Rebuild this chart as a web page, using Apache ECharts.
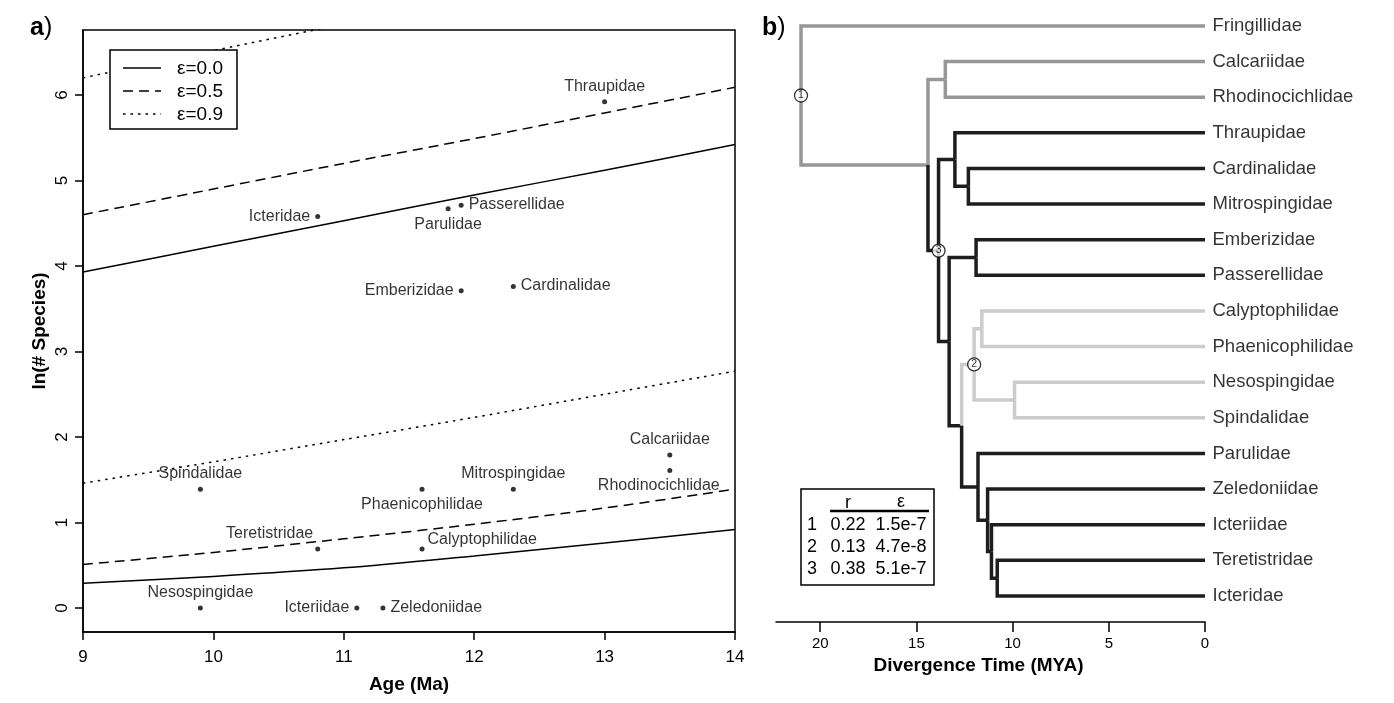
<!DOCTYPE html>
<html><head><meta charset="utf-8">
<script src="https://cdn.jsdelivr.net/npm/echarts@6/dist/echarts.min.js"></script>
<style>html,body{margin:0;padding:0;background:#fff}#c{width:1394px;height:703px}</style>
</head><body><div id="c"></div>
<script>
// ---------- Panel a data ----------
const families = ['Thraupidae','Icteridae','Parulidae','Passerellidae','Emberizidae','Cardinalidae','Calcariidae','Rhodinocichlidae','Spindalidae','Phaenicophilidae','Mitrospingidae','Teretistridae','Calyptophilidae','Nesospingidae','Icteriidae','Zeledoniidae'];
const familyAge = [13.0,10.8,11.8,11.9,11.9,12.3,13.5,13.5,9.9,11.6,12.3,10.8,11.6,9.9,11.1,11.3];
const lnSpecies = [5.92,4.58,4.67,4.71,3.71,3.76,1.79,1.61,1.39,1.39,1.39,0.69,0.69,0,0,0];

const curveAge   = [9,10,11,12,13,14];
const eps00Upper = [3.93,4.23,4.53,4.83,5.12,5.42];
const eps00Lower = [0.29,0.37,0.47,0.61,0.76,0.92];
const eps05Upper = [4.60,4.90,5.20,5.49,5.79,6.09];
const eps05Lower = [0.51,0.65,0.81,0.98,1.17,1.39];
const eps09Upper = [6.20,6.52,6.83,7.15,7.46,7.78];
const eps09Lower = [1.46,1.71,1.97,2.23,2.50,2.77];
const legendNames = ['ε=0.0','ε=0.5','ε=0.9'];
const lnTicks = [0,1,2,3,4,5,6];

// ---------- Panel b data ----------
const tipNames = ['Fringillidae','Calcariidae','Rhodinocichlidae','Thraupidae','Cardinalidae','Mitrospingidae','Emberizidae','Passerellidae','Calyptophilidae','Phaenicophilidae','Nesospingidae','Spindalidae','Parulidae','Zeledoniidae','Icteriidae','Teretistridae','Icteridae'];
const nodeIds = ['n1','nA','nCR','n3','nT','nCM','nR','nEP','nL','n2','nCP','nNS','nP','nZ','nI','nTI'];
const nodeChildren = [['Fringillidae','nA'],['nCR','n3'],['Calcariidae','Rhodinocichlidae'],['nT','nR'],['Thraupidae','nCM'],['Cardinalidae','Mitrospingidae'],['nEP','nL'],['Emberizidae','Passerellidae'],['n2','nP'],['nCP','nNS'],['Calyptophilidae','Phaenicophilidae'],['Nesospingidae','Spindalidae'],['Parulidae','nZ'],['Zeledoniidae','nI'],['Icteriidae','nTI'],['Teretistridae','Icteridae']];
const nodeAges = [21.0,14.4,13.5,13.85,13.0,12.3,13.3,11.9,12.65,12.0,11.6,9.9,11.8,11.3,11.1,10.8];
const grayClade = ['Fringillidae','nA','nCR','Calcariidae','Rhodinocichlidae'];
const lightClade = ['n2','nCP','nNS','Calyptophilidae','Phaenicophilidae','Nesospingidae','Spindalidae'];
const numberedNodes = ['n1','n2','n3'];
const numberedLabels = ['1','2','3'];
const timeTicks = [0,5,10,15,20];

const tableRows = ['1','2','3'];
const tableR = ['0.22','0.13','0.38'];
const tableEps = ['1.5e-7','4.7e-8','5.1e-7'];

// ---------- build ----------
const FONT = '"Liberation Sans", Arial, Helvetica, sans-serif';
const INK = '#000';
const DASHES = ['solid', [10,6], [2.5,5]];

const labelPlace = {
  Thraupidae:['top',[0,0]], Icteridae:['left',[0,0]], Parulidae:['bottom',[0,0]],
  Passerellidae:['right',[0,-1]], Emberizidae:['left',[0,0]], Cardinalidae:['right',[0,-1]],
  Calcariidae:['top',[0,0]], Rhodinocichlidae:['bottom',[-11,0]], Spindalidae:['top',[0,0]],
  Phaenicophilidae:['bottom',[0,0]], Mitrospingidae:['top',[0,0]], Teretistridae:['left',[3,-15]],
  Calyptophilidae:['right',[-2,-9]], Nesospingidae:['top',[0,0]], Icteriidae:['left',[0,0]],
  Zeledoniidae:['right',[0,0]]
};

const scatterData = families.map((n,i)=>({
  name:n, value:[familyAge[i], lnSpecies[i]],
  label:{position:labelPlace[n][0], offset:labelPlace[n][1]}
}));

function curve(arr){ return curveAge.map((x,i)=>[x, arr[i]]); }
function lineSeries(name, arr, dash){
  return {type:'line', name:name, xAxisIndex:0, yAxisIndex:0, data:curve(arr), smooth:0.3,
    symbol:'none', lineStyle:{color:INK, width:1.5, type:dash}, itemStyle:{color:INK}};
}

const yOf = {}, ageOf = {};
tipNames.forEach((n,i)=>{ yOf[n]=i; ageOf[n]=0; });
nodeIds.forEach((id,i)=>{ ageOf[id]=nodeAges[i]; });
function getY(id){
  if (id in yOf) return yOf[id];
  const c = nodeChildren[nodeIds.indexOf(id)];
  const y = (getY(c[0])+getY(c[1]))/2; yOf[id]=y; return y;
}
nodeIds.forEach(getY);
function colorOf(id){
  if (grayClade.includes(id)) return '#979797';
  if (lightClade.includes(id)) return '#cccccc';
  return '#1e1e1e';
}
const branchData = [], branchColor = [];
nodeIds.forEach((id,i)=>{
  nodeChildren[i].forEach(ch=>{
    branchData.push([ageOf[id], yOf[id], ageOf[id], yOf[ch], ageOf[ch], yOf[ch]]);
    branchColor.push(colorOf(ch));
  });
});

// legend drawn as graphics (box with line samples)
const legendGraphics = [
  {type:'rect', shape:{x:110, y:50, width:127, height:79}, style:{fill:'#fff', stroke:INK, lineWidth:1.5}, z:20}
];
legendNames.forEach((nm,i)=>{
  const y = 68 + 23*i;
  legendGraphics.push({type:'line', shape:{x1:123, y1:y, x2:161, y2:y},
    style:{stroke:INK, lineWidth:1.5, lineDash: DASHES[i]==='solid'?null:DASHES[i]}, z:21});
  legendGraphics.push({type:'text', x:177, y:y+1, style:{text:nm, font:'19px '+FONT, fill:INK, textVerticalAlign:'middle'}, z:21});
});

const option = {
  animation:false,
  backgroundColor:'#fff',
  textStyle:{fontFamily:FONT},
  grid:[
    {left:83, top:30, width:652, height:602, show:true, borderColor:INK, borderWidth:1.5, backgroundColor:'transparent'},
    {left:776, top:26, width:429, height:596, show:false}
  ],
  xAxis:[
    {gridIndex:0, type:'value', min:9, max:14, interval:1,
     axisLine:{onZero:false, lineStyle:{color:INK, width:1.5}},
     axisTick:{length:8, lineStyle:{color:INK, width:1.5}},
     axisLabel:{fontSize:17, color:INK, margin:17},
     splitLine:{show:false},
     name:'Age (Ma)', nameLocation:'middle', nameGap:43,
     nameTextStyle:{fontSize:19, fontWeight:'bold', color:INK}},
    {gridIndex:1, type:'value', min:0, max:22.3, inverse:true,
     axisLine:{onZero:false, lineStyle:{color:INK, width:1.5}},
     axisTick:{length:10, customValues:timeTicks, lineStyle:{color:INK, width:1.5}},
     axisLabel:{fontSize:15, color:INK, margin:14, customValues:timeTicks},
     splitLine:{show:false},
     name:'Divergence Time (MYA)', nameLocation:'middle', nameGap:34,
     nameTextStyle:{fontSize:19, fontWeight:'bold', color:INK, padding:[0,24,0,0]}}
  ],
  yAxis:[
    {gridIndex:0, type:'value', min:-0.28, max:6.76,
     axisLine:{onZero:false, lineStyle:{color:INK, width:1.5}},
     axisTick:{length:8, customValues:lnTicks, lineStyle:{color:INK, width:1.5}},
     axisLabel:{fontSize:17, color:INK, margin:12, rotate:90, customValues:lnTicks},
     splitLine:{show:false},
     name:'ln(# Species)', nameLocation:'middle', nameGap:34, nameRotate:90,
     nameTextStyle:{fontSize:19, fontWeight:'bold', color:INK}},
    {gridIndex:1, type:'value', min:0, max:16.73, inverse:true, show:false}
  ],
  series:[
    lineSeries(legendNames[0], eps00Upper, DASHES[0]),
    lineSeries(legendNames[0], eps00Lower, DASHES[0]),
    lineSeries(legendNames[1], eps05Upper, DASHES[1]),
    lineSeries(legendNames[1], eps05Lower, DASHES[1]),
    lineSeries(legendNames[2], eps09Upper, DASHES[2]),
    lineSeries(legendNames[2], eps09Lower, DASHES[2]),
    {type:'scatter', name:'families', xAxisIndex:0, yAxisIndex:0, data:scatterData,
     symbol:'circle', symbolSize:5, itemStyle:{color:INK},
     label:{show:true, formatter:'{b}', fontSize:16, color:INK, distance:5}},
    {type:'custom', name:'tree', xAxisIndex:1, yAxisIndex:1, data:branchData, clip:false,
     renderItem:function(params, api){
       const p1 = api.coord([api.value(0), api.value(1)]);
       const p2 = api.coord([api.value(2), api.value(3)]);
       const p3 = api.coord([api.value(4), api.value(5)]);
       return {type:'polyline', shape:{points:[p1,p2,p3]},
         style:{stroke:branchColor[params.dataIndex], lineWidth:3.5, fill:null, lineJoin:'miter', lineCap:'butt'}};
     }},
    {type:'scatter', name:'tips', xAxisIndex:1, yAxisIndex:1,
     data:tipNames.map((n,i)=>({name:n, value:[0,i]})),
     symbolSize:1, itemStyle:{color:'rgba(0,0,0,0)'},
     label:{show:true, position:'right', distance:7, formatter:'{b}', fontSize:18.5, color:INK}},
    {type:'scatter', name:'nodes', xAxisIndex:1, yAxisIndex:1, z:5,
     data:numberedNodes.map((id,i)=>({name:numberedLabels[i], value:[ageOf[id], yOf[id]]})),
     symbol:'circle', symbolSize:13, itemStyle:{color:'#fff', borderColor:INK, borderWidth:1.3},
     label:{show:true, position:'inside', formatter:'{b}', fontSize:10.5, color:INK}}
  ],
  graphic:[
    {type:'text', left:30, top:16, style:{rich:{b:{fontSize:25, fontWeight:'bold', fill:INK, fontFamily:FONT}, n:{fontSize:25, fill:INK, fontFamily:FONT}}, text:'{b|a}{n|)}'}},
    {type:'text', left:762, top:16, style:{rich:{b:{fontSize:25, fontWeight:'bold', fill:INK, fontFamily:FONT}, n:{fontSize:25, fill:INK, fontFamily:FONT}}, text:'{b|b}{n|)}'}},
    {type:'rect', shape:{x:801, y:489, width:133, height:96}, style:{fill:'#fff', stroke:INK, lineWidth:1.5}, z:10},
    {type:'line', shape:{x1:830, y1:511, x2:929, y2:511}, style:{stroke:INK, lineWidth:2.5}, z:11},
    {type:'text', x:848, y:503, style:{text:'r', font:'18px '+FONT, fill:INK, textAlign:'center', textVerticalAlign:'middle'}, z:11},
    {type:'text', x:901, y:502, style:{text:'ε', font:'18px '+FONT, fill:INK, textAlign:'center', textVerticalAlign:'middle'}, z:11}
  ].concat(legendGraphics).concat(
    tableRows.flatMap((r,i)=>[
      {type:'text', x:812, y:525+22*i, style:{text:r, font:'18px '+FONT, fill:INK, textAlign:'center', textVerticalAlign:'middle'}, z:11},
      {type:'text', x:848, y:525+22*i, style:{text:tableR[i], font:'18px '+FONT, fill:INK, textAlign:'center', textVerticalAlign:'middle'}, z:11},
      {type:'text', x:901, y:525+22*i, style:{text:tableEps[i], font:'18px '+FONT, fill:INK, textAlign:'center', textVerticalAlign:'middle'}, z:11}
    ])
  )
};
const chart = echarts.init(document.getElementById('c'));
chart.setOption(option);
</script>
</body></html>
